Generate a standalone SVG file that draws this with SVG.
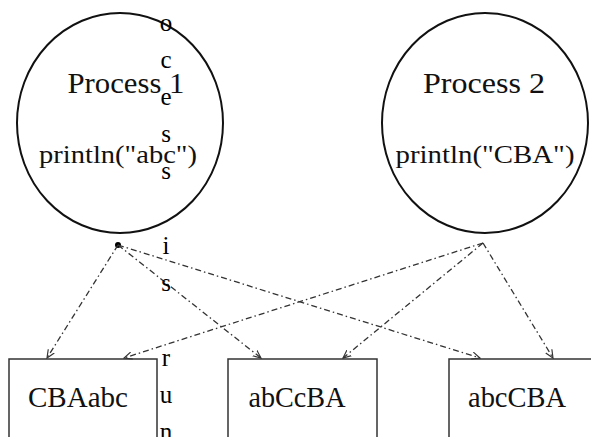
<svg xmlns="http://www.w3.org/2000/svg" width="591" height="437" viewBox="0 0 591 437">
<defs>
<style>
.proc{fill:none;stroke:#111;stroke-width:2}
.box{fill:none;stroke:#333;stroke-width:1.5}
.lbl{font-family:"Liberation Serif",serif;fill:#111;text-anchor:middle}
.big{font-size:29px}
.code{font-size:26px}
.edge{fill:none;stroke:#333;stroke-width:1.3;stroke-dasharray:6 3 1.5 3;marker-end:url(#arr)}
.vt{font-family:"Liberation Serif",serif;font-size:25px;fill:#000;text-anchor:middle}
</style>
<marker id="arr" viewBox="0 0 10 10" refX="9" refY="5" markerWidth="9" markerHeight="9" markerUnits="userSpaceOnUse" orient="auto">
<path d="M0,1 L9,5 L0,9" fill="none" stroke="#333" stroke-width="1.3"/>
</marker>
</defs>
<rect width="591" height="437" fill="#fff"/>
<g id="process1">
<ellipse class="proc" cx="120" cy="123" rx="103" ry="110"/>
<text class="lbl big" x="126" y="93" textLength="117" lengthAdjust="spacingAndGlyphs">Process 1</text>
<text class="lbl code" x="118" y="163" textLength="158" lengthAdjust="spacingAndGlyphs">println("abc")</text>
</g>
<g id="process2">
<ellipse class="proc" cx="485" cy="123" rx="103" ry="110"/>
<text class="lbl big" x="484" y="93" textLength="122" lengthAdjust="spacingAndGlyphs">Process 2</text>
<text class="lbl code" x="485" y="163" textLength="179" lengthAdjust="spacingAndGlyphs">println("CBA")</text>
</g>
<g id="out1">
<rect class="box" x="9" y="359" width="148" height="100"/>
<text class="lbl big" x="78" y="407" textLength="100" lengthAdjust="spacingAndGlyphs">CBAabc</text>
</g>
<g id="out2">
<rect class="box" x="228" y="359" width="149" height="100"/>
<text class="lbl big" x="297" y="407" textLength="97" lengthAdjust="spacingAndGlyphs">abCcBA</text>
</g>
<g id="out3">
<rect class="box" x="449" y="359" width="149" height="100"/>
<text class="lbl big" x="517" y="407" textLength="98" lengthAdjust="spacingAndGlyphs">abcCBA</text>
</g>
<g id="connectors">
<circle cx="118" cy="245" r="3" fill="#000"/>
<path class="edge" d="M118,245 L47,358"/>
<path class="edge" d="M118,245 L261,358"/>
<path class="edge" d="M118,245 L480,358"/>
<path class="edge" d="M483,243 L124,358"/>
<path class="edge" d="M483,243 L343,358"/>
<path class="edge" d="M483,243 L553,358"/>
</g>
<g id="vertical-text">
<text class="vt" x="166" y="31">o</text>
<text class="vt" x="166" y="68">c</text>
<text class="vt" x="166" y="105">e</text>
<text class="vt" x="166" y="142">s</text>
<text class="vt" x="166" y="179">s</text>
<text class="vt" x="166" y="254">i</text>
<text class="vt" x="166" y="291">s</text>
<text class="vt" x="166" y="366">r</text>
<text class="vt" x="166" y="403">u</text>
<text class="vt" x="166" y="440">n</text>
</g>
</svg>
